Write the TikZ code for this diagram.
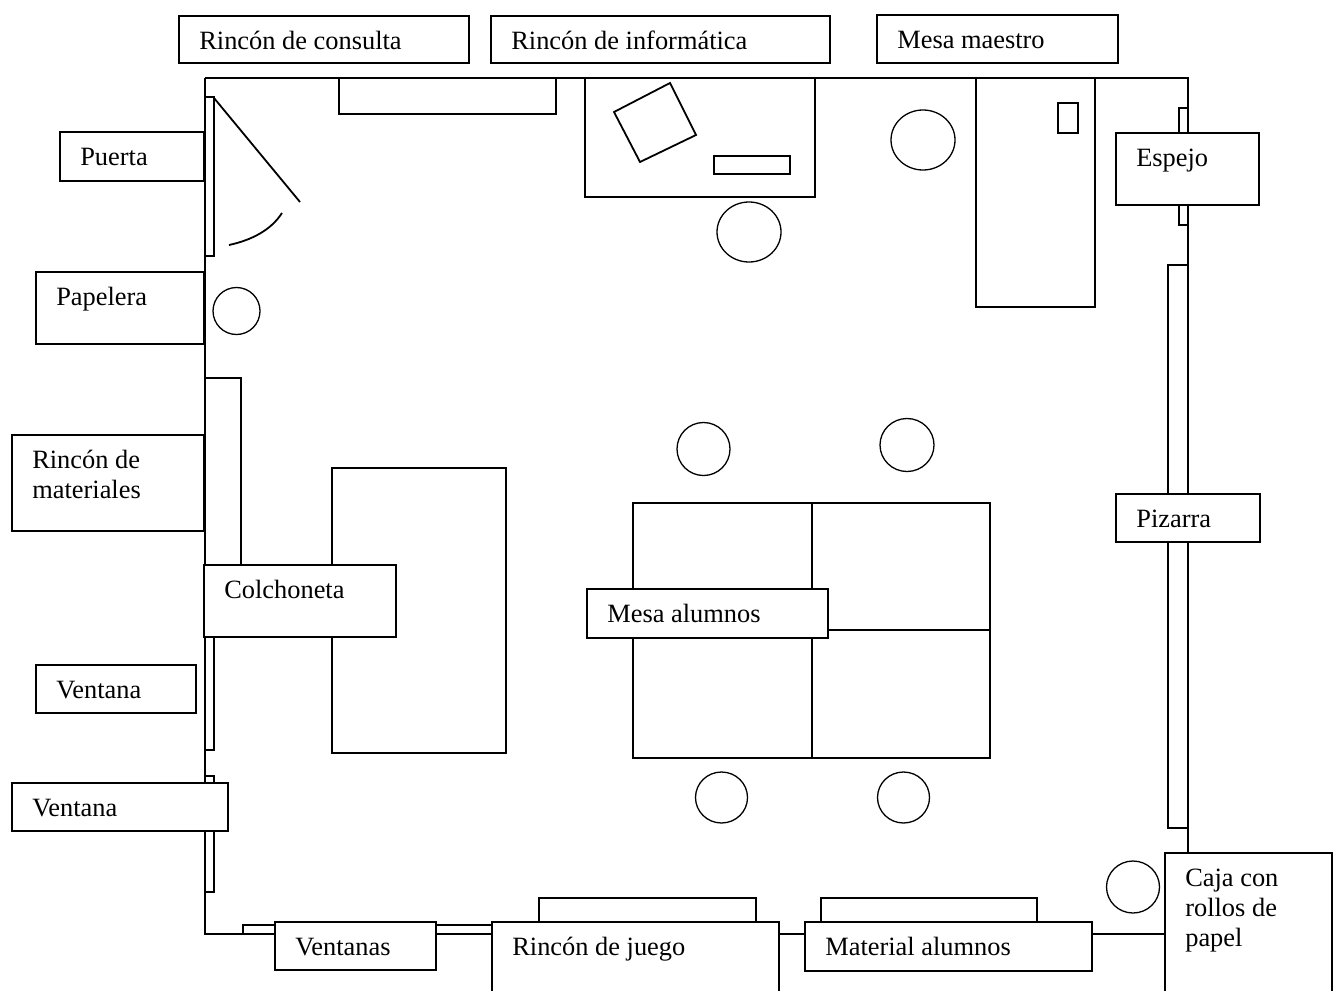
\documentclass[tikz,border=0pt]{standalone}
\usepackage{fontspec}
\setmainfont{Liberation Serif}
\usepackage{tikz}
\usetikzlibrary{calc, fit, positioning}
\tikzset{
    wallline/.style = {draw, black, line width=1pt},
    furnline/.style = {draw, black, line width=0.9pt},
    chairline/.style = {draw, black, line width=0.65pt},
    boxnode/.style = {draw, fill=white, rectangle, inner sep=0em, line width=1.1pt},
    textnode/.style = {draw=none, fill=none, rectangle, inner sep=0em, anchor=base west,
      align=left, font=\fontsize{13.2}{15}\selectfont}
}

\begin{document}
\begin{tikzpicture}[x=0.5pt, y=-0.5pt]
    \useasboundingbox (0,0) rectangle (1336,990);
    % walls
    \draw[wallline] (205,78) -- (1188,78) -- (1188,853);
    \draw[wallline] (205,78) -- (205,934) -- (1165,934);

    % door
    \draw[furnline] (205,97) rectangle (214,256);
    \draw[furnline] (214,98) -- (300,202);
    \draw[furnline] (229,245) .. controls (252,240) and (271,230) .. (282,213);

    % furniture along the walls
    \draw[furnline] (339,78) rectangle (556,114);
    \draw[furnline] (585,78) rectangle (815,197);
    \draw[furnline] (614,112) -- (670,83) -- (696,135) -- (640,162) -- cycle;
    \draw[furnline] (714,156) rectangle (790,174);
    \draw[furnline] (976,78) rectangle (1095,307);
    \draw[furnline] (1058,103) rectangle (1078,133);
    \draw[furnline] (1179,108) rectangle (1188,225);
    \draw[furnline] (1168,265) rectangle (1188,828);
    \draw[furnline] (205,378) rectangle (241,600);
    \draw[furnline] (205,600) rectangle (214,750);
    \draw[furnline] (205,776) rectangle (214,892);
    \draw[furnline] (243,925) rectangle (492,934);
    \draw[furnline] (539,898) rectangle (756,934);
    \draw[furnline] (821,898) rectangle (1037,934);

    % mat and student tables
    \draw[furnline] (332,468) rectangle (506,753);
    \draw[furnline] (633,503) rectangle (990,758);
    \draw[furnline] (812,503) -- (812,758);
    \draw[furnline] (633,630) -- (990,630);

    % chairs and bin
    \draw[chairline] (236.5,311) circle [x radius=23.5, y radius=23.5];
    \draw[chairline] (749,232) circle [x radius=32, y radius=30];
    \draw[chairline] (923,140) circle [x radius=32, y radius=30];
    \draw[chairline] (703.5,449) circle [x radius=26.5, y radius=26.5];
    \draw[chairline] (907,445) circle [x radius=27, y radius=26.5];
    \draw[chairline] (721.5,797.5) circle [x radius=26, y radius=25.5];
    \draw[chairline] (903.5,797.5) circle [x radius=26, y radius=25.5];
    \draw[chairline] (1133,887) circle [x radius=26.5, y radius=26];

    % labels
    \node[boxnode, fit={(179,16) (469,63)}] (consultaBox) {};
    \node[textnode] (consulta) at ([shift={(21,35)}]consultaBox.north west) {Rincón de consulta};
    \node[boxnode, fit={(491,16) (830,63)}] (informaticaBox) {};
    \node[textnode] (informatica) at ([shift={(21,35)}]informaticaBox.north west) {Rincón de informática};
    \node[boxnode, fit={(877,15) (1118,63)}] (maestroBox) {};
    \node[textnode] (maestro) at ([shift={(21,35)}]maestroBox.north west) {Mesa maestro};
    \node[boxnode, fit={(60,132) (204,181)}] (puertaBox) {};
    \node[textnode] (puerta) at ([shift={(21,35)}]puertaBox.north west) {Puerta};
    \node[boxnode, fit={(36,272) (204,344)}] (papeleraBox) {};
    \node[textnode] (papelera) at ([shift={(21,35)}]papeleraBox.north west) {Papelera};
    \node[boxnode, fit={(12,435) (204,531)}] (materialesBox) {};
    \node[textnode] (materiales) at ([shift={(21,65)}]materialesBox.north west) {Rincón de\\materiales};
    \node[boxnode, fit={(204,565) (396,637)}] (colchonetaBox) {};
    \node[textnode] (colchoneta) at ([shift={(21,35)}]colchonetaBox.north west) {Colchoneta};
    \node[boxnode, fit={(36,665) (196,713)}] (ventanaABox) {};
    \node[textnode] (ventanaA) at ([shift={(21,35)}]ventanaABox.north west) {Ventana};
    \node[boxnode, fit={(12,783) (228,831)}] (ventanaBBox) {};
    \node[textnode] (ventanaB) at ([shift={(21,35)}]ventanaBBox.north west) {Ventana};
    \node[boxnode, fit={(275,922) (436,970)}] (ventanasBox) {};
    \node[textnode] (ventanas) at ([shift={(21,35)}]ventanasBox.north west) {Ventanas};
    \node[boxnode, fit={(492,922) (779,994)}] (juegoBox) {};
    \node[textnode] (juego) at ([shift={(21,35)}]juegoBox.north west) {Rincón de juego};
    \node[boxnode, fit={(805,922) (1092,971)}] (materialBox) {};
    \node[textnode] (material) at ([shift={(21,35)}]materialBox.north west) {Material alumnos};
    \node[boxnode, fit={(1165,853) (1332,994)}] (cajaBox) {};
    \node[textnode] (caja) at ([shift={(21,95)}]cajaBox.north west) {Caja con\\rollos de\\papel};
    \node[boxnode, fit={(1116,133) (1259,205)}] (espejoBox) {};
    \node[textnode] (espejo) at ([shift={(21,35)}]espejoBox.north west) {Espejo};
    \node[boxnode, fit={(1116,494) (1260,542)}] (pizarraBox) {};
    \node[textnode] (pizarra) at ([shift={(21,35)}]pizarraBox.north west) {Pizarra};
    \node[boxnode, fit={(587,589) (828,638)}] (alumnosBox) {};
    \node[textnode] (alumnos) at ([shift={(21,35)}]alumnosBox.north west) {Mesa alumnos};
\end{tikzpicture}
\end{document}
